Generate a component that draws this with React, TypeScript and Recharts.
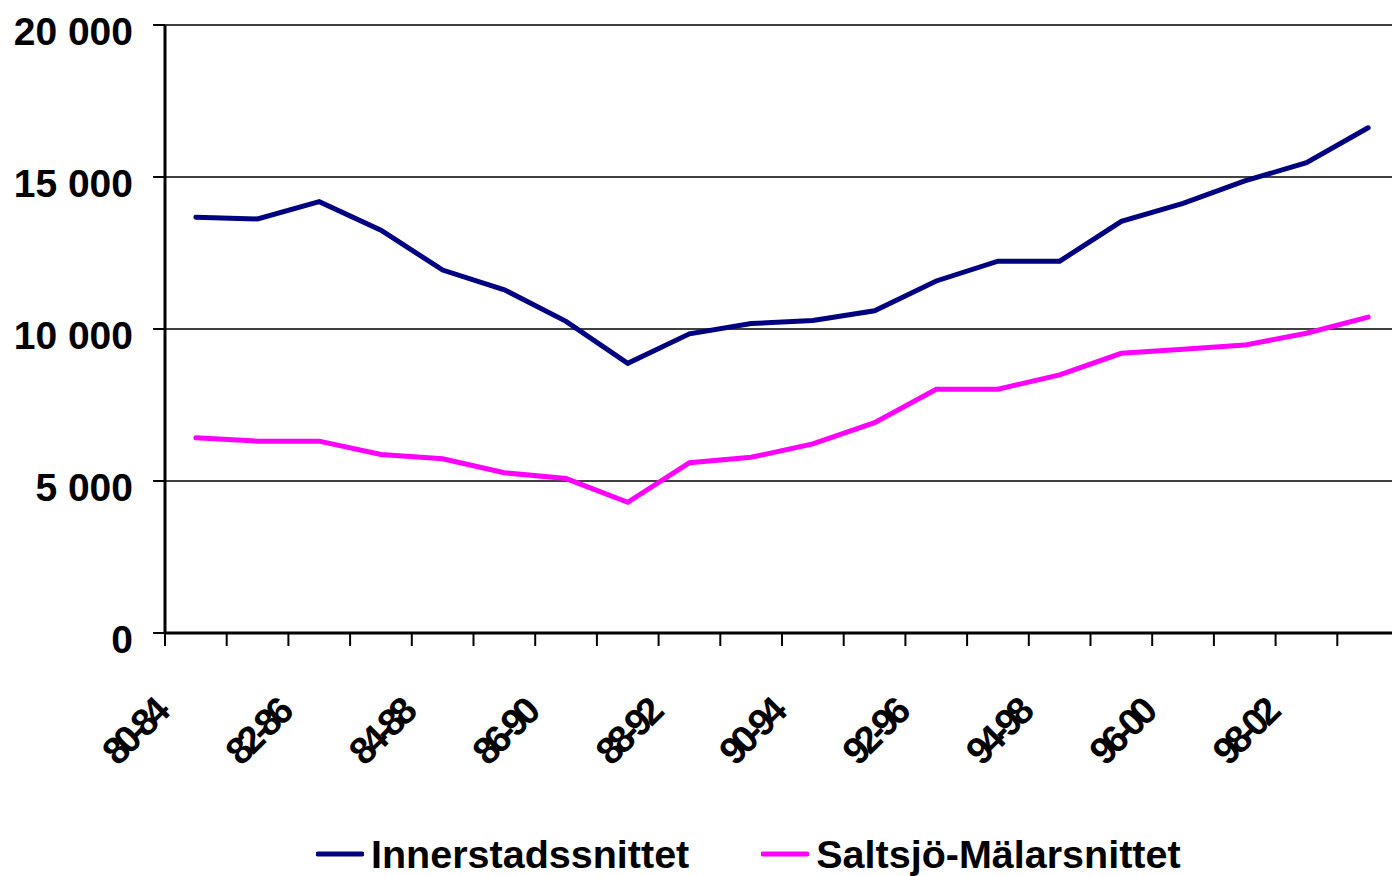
import React from "react";
import { LineChart, Line, XAxis, YAxis, CartesianGrid, Legend } from "recharts";

const periods = [
  "80-84", "81-85", "82-86", "83-87", "84-88", "85-89", "86-90", "87-91", "88-92", "89-93",
  "90-94", "91-95", "92-96", "93-97", "94-98", "95-99", "96-00", "97-01", "98-02", "99-03",
];
const innerstad = [
  13680, 13620, 14190, 13250, 11940, 11290, 10250, 8870, 9840, 10180,
  10280, 10600, 11580, 12230, 12230, 13540, 14130, 14870, 15470, 16620,
];
const saltsjo = [
  6420, 6310, 6310, 5870, 5730, 5270, 5080, 4300, 5600, 5780,
  6220, 6920, 8020, 8020, 8490, 9200, 9330, 9470, 9860, 10390,
];
const yTicks = [0, 5000, 10000, 15000, 20000];
const xBounds = Array.from({ length: periods.length + 1 }, (_, i) => i);

const font = "'Liberation Sans', Arial, sans-serif";

const data = periods.map((p, i) => ({
  x: i + 0.5,
  period: p,
  Innerstadssnittet: innerstad[i],
  "Saltsjö-Mälarsnittet": saltsjo[i],
}));

const fmt = (v: number) => String(v).replace(/\B(?=(\d{3})+(?!\d))/g, " ");

const YTick = (props: any) => {
  const { x, y, payload } = props;
  return (
    <text x={x} y={y} dy={20} textAnchor="end" fontSize={39} fontWeight="bold" fontFamily={font} fill="#000">
      {fmt(payload.value)}
    </text>
  );
};

const XTick = (props: any) => {
  const { x, y, payload } = props;
  const i = payload.value;
  if (i % 2 !== 0 || i >= periods.length) return <g />;
  return (
    <text
      transform={`translate(${x + 4},${y + 70}) rotate(-45)`}
      textAnchor="end"
      fontSize={38}
      letterSpacing={-5}
      fontWeight="bold"
      fontFamily={font}
      fill="#000"
    >
      {periods[i]}
    </text>
  );
};

const renderLegend = (props: any) => {
  const { payload } = props;
  return (
    <div style={{ display: "flex", alignItems: "center", gap: 72 }}>
      {payload.map((entry: any) => (
        <div key={entry.value} style={{ display: "flex", alignItems: "center", gap: 7 }}>
          <svg width={48} height={10}>
            <line x1={2} y1={5} x2={46} y2={5} stroke={entry.color} strokeWidth={5} strokeLinecap="round" />
          </svg>
          <span style={{ fontFamily: font, fontWeight: "bold", fontSize: 39.5, color: "#000", lineHeight: "44px" }}>
            {entry.value}
          </span>
        </div>
      ))}
    </div>
  );
};

const App = () => {
  return (
    <div style={{ position: "absolute", left: 0, top: 0, width: 1392, height: 876, overflow: "hidden", background: "#fff" }}>
      <LineChart width={1400} height={876} data={data} margin={{ top: 25, right: 1, left: 0, bottom: 0 }}>
        <CartesianGrid vertical={false} stroke="#000" strokeWidth={1.5} />
        <XAxis
          dataKey="x"
          type="number"
          domain={[0, periods.length]}
          ticks={xBounds}
          interval={0}
          height={243}
          axisLine={{ stroke: "#000", strokeWidth: 3 }}
          tickLine={{ stroke: "#000", strokeWidth: 2 }}
          tickSize={13}
          tickMargin={0}
          tick={<XTick />}
        />
        <YAxis
          domain={[0, 20000]}
          ticks={yTicks}
          interval={0}
          width={165}
          axisLine={{ stroke: "#000", strokeWidth: 3 }}
          tickLine={{ stroke: "#000", strokeWidth: 2 }}
          tickSize={12}
          tickMargin={20}
          tick={<YTick />}
        />
        <Legend
          verticalAlign="middle"
          align="center"
          layout="horizontal"
          wrapperStyle={{ top: 832, left: 316, width: 1000, height: 44 }}
          content={renderLegend}
        />
        <Line
          dataKey="Innerstadssnittet"
          stroke="#000080"
          strokeWidth={5}
          strokeLinecap="round"
          dot={false}
          isAnimationActive={false}
        />
        <Line
          dataKey="Saltsjö-Mälarsnittet"
          stroke="#FF00FF"
          strokeWidth={5}
          strokeLinecap="round"
          dot={false}
          isAnimationActive={false}
        />
      </LineChart>
    </div>
  );
};

export default App;
